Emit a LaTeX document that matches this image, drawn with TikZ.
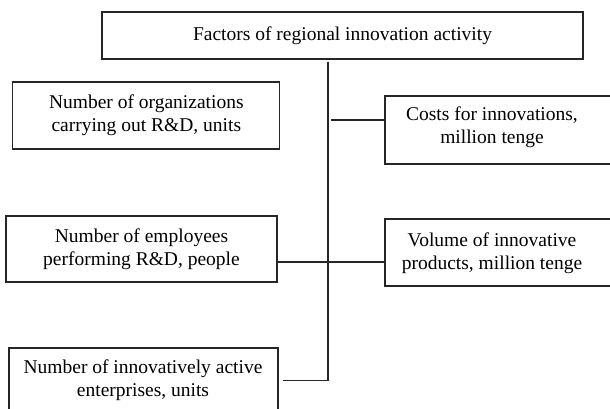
\documentclass[tikz,border=0pt]{standalone}
\usepackage{fontspec}
\setmainfont{Liberation Serif}
\begin{document}
\begin{tikzpicture}[x=1pt,y=-1pt,
  box/.style={draw=black!85, line width=1.3pt, inner sep=0pt},
  lbl/.style={font=\fontsize{19.5}{23}\selectfont, align=center, inner sep=0pt},
  conn/.style={draw=black!85, line width=1.3pt}]
\useasboundingbox (0,0) rectangle (610,409);
% boxes
\node[box, lbl, minimum width=481pt, minimum height=47pt] (top) at (342.5,35.5) {Factors of regional innovation activity};
\node[box, lbl, minimum width=267pt, minimum height=67pt] (l1) at (146.3,115.5) {Number of organizations\\carrying out R\&D, units};
\node[box, lbl, minimum width=271pt, minimum height=66pt] (l2) at (141.5,249) {Number of employees\\performing R\&D, people};
\node[box, minimum width=269pt, minimum height=66pt] (l3) at (143.5,381) {};
\node[lbl] (l3t) at (143,380) {Number of innovatively active\\enterprises, units};
\node[box, minimum width=240pt, minimum height=68pt] (r1) at (505,130) {};
\node[lbl] (r1t) at (492,127.5) {Costs for innovations,\\million tenge};
\node[box, minimum width=240pt, minimum height=67pt] (r2) at (505,252.5) {};
\node[lbl] (r2t) at (492,253) {Volume of innovative\\products, million tenge};
% spine and connectors
\coordinate (s0) at (328,62);
\coordinate (s1) at (328,380.5);
\draw[conn] (s0) -- (s1);
\coordinate (c1) at (331,120);
\draw[conn] (c1) -- (c1 -| r1.west);
\coordinate (c2) at (328,262);
\draw[conn] (c2 -| l2.east) -- (c2 -| r2.west);
\coordinate (c3) at (283,380.5);
\draw[conn] (c3) -- (s1);
\end{tikzpicture}
\end{document}
